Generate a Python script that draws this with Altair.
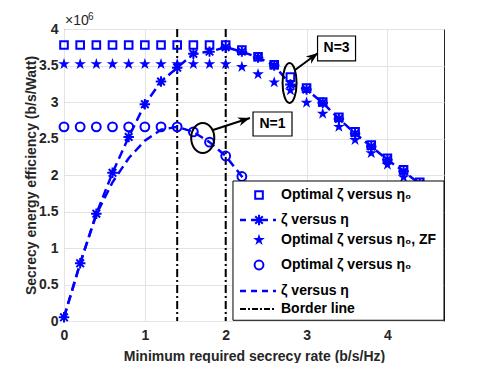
import math
import altair as alt
import pandas as pd

# ---------------- data (values in units of 10^6 b/s/Watt) ----------------
x_vals = [0.0, 0.2, 0.4, 0.6, 0.8, 1.0, 1.2, 1.4, 1.6, 1.8, 2.0, 2.2,
          2.4, 2.6, 2.8, 3.0, 3.2, 3.4, 3.6, 3.8, 4.0, 4.2, 4.4, 4.6]
opt_n3 = [3.78, 3.78, 3.78, 3.78, 3.78, 3.78, 3.78, 3.78, 3.78, 3.78, 3.78, 3.71,
          3.62, 3.51, 3.34, 3.19, 3.00, 2.79, 2.59, 2.41, 2.23, 2.07, 1.90, 1.72]
zeta_n3 = [0.05, 0.79, 1.47, 2.03, 2.52, 2.97, 3.28, 3.47, 3.66, 3.69, 3.75, 3.69,
           3.61, 3.50, 3.24, 3.17, 2.99, 2.77, 2.57, 2.39, 2.21, 2.05, 1.88, 1.70]
opt_zf = [3.52, 3.52, 3.52, 3.52, 3.52, 3.52, 3.52, 3.52, 3.52, 3.52, 3.52, 3.48,
          3.38, 3.27, 3.16, 2.99, 2.84, 2.66, 2.48, 2.30, 2.14, 1.97, 1.80, 1.62]
x_n1 = [0.0, 0.2, 0.4, 0.6, 0.8, 1.0, 1.2, 1.4, 1.6, 1.8, 2.0, 2.2, 2.4]
opt_n1 = [2.66, 2.66, 2.66, 2.66, 2.66, 2.66, 2.66, 2.66, 2.59, 2.45, 2.26, 1.98, 1.68]
zeta_n1 = [0.05, 0.79, 1.46, 1.90, 2.23, 2.47, 2.62, 2.66, 2.59, 2.45, 2.26, 1.98, 1.68]
border_x = [1.4, 2.0]

x_ticks = [0, 1, 2, 3, 4]
y_ticks = [0, 0.5, 1, 1.5, 2, 2.5, 3, 3.5, 4]

legend_labels = ["Optimal ζ versus η₀", "ζ versus η", "Optimal ζ versus η₀, ZF",
                 "Optimal ζ versus η₀", "ζ versus η", "Border line"]

# annotations (data units)
box_labels = ["N=1", "N=3"]
box_x1 = [2.338, 3.136]
box_x2 = [2.820, 3.606]
box_y1 = [2.863, 3.904]
box_y2 = [2.534, 3.562]
arrow_x1 = [1.843, 2.857]
arrow_y1 = [2.616, 3.438]
arrow_x2 = [2.300, 3.142]
arrow_y2 = [2.780, 3.671]
ell_x = [1.716, 2.79]
ell_y = [2.507, 3.26]

# legend layout (data units)
leg_rows_y = [1.726, 1.384, 1.110, 0.767, 0.411, 0.164]
leg_marker_x = 2.412
leg_line_x1, leg_line_x2 = 2.177, 2.622
leg_text_x = 2.684
leg_box = (2.090, 4.7, 1.918, 0.01)

# ---------------- styling ----------------
W, H = 380, 292
XMAX, YMAX = 4.7, 4.0
BLUE = "#0000FF"
FONT = "Liberation Sans"
STAR = ("M0,-1L0.225,-0.309L0.951,-0.309L0.363,0.118L0.588,0.809L0,0.382"
        "L-0.588,0.809L-0.363,0.118L-0.951,-0.309L-0.225,-0.309Z")
ASTER = "M-1,0L1,0M0,-1L0,1M-0.72,-0.72L0.72,0.72M-0.72,0.72L0.72,-0.72"
HEAD = "M0,0L-2,-0.75L-1.4,0L-2,0.75Z"
ELL1 = "M0,-1A0.77,1 0 1,1 0,1A0.77,1 0 1,1 0,-1Z"
ELL3 = "M0,-1A0.35,1 0 1,1 0,1A0.35,1 0 1,1 0,-1Z"

xs = alt.Scale(domain=[0, XMAX], nice=False, zero=False)
ys = alt.Scale(domain=[0, YMAX], nice=False, zero=False)
x_axis = alt.Axis(values=x_ticks, format="~g", title="Minimum required secrecy rate (b/s/Hz)",
                  labelPadding=7, titlePadding=7)
y_axis = alt.Axis(values=y_ticks, format="~g", title="Secrecy energy efficiency (b/s/Watt)",
                  labelPadding=6, titlePadding=0)


def X(f="x"):
    return alt.X(f"{f}:Q", scale=xs, axis=x_axis)


def Y(f="y"):
    return alt.Y(f"{f}:Q", scale=ys, axis=y_axis)


def pts(df, shape, size, filled, color=BLUE, sw=2.0):
    if filled:
        m = alt.Chart(df).mark_point(shape=shape, size=size, filled=True, fill=color,
                                     strokeWidth=0, opacity=1)
    else:
        m = alt.Chart(df).mark_point(shape=shape, size=size, filled=False, stroke=color,
                                     strokeWidth=sw, opacity=1)
    return m.encode(x=X(), y=Y())


def line(df, color=BLUE, dash=(9, 5), sw=2.5):
    return alt.Chart(df).mark_line(color=color, strokeWidth=sw, strokeDash=list(dash)).encode(
        x=X(), y=Y(), order="x:Q")


df_n3 = pd.DataFrame({"x": x_vals, "y": opt_n3})
df_z3 = pd.DataFrame({"x": x_vals, "y": zeta_n3})
df_zf = pd.DataFrame({"x": x_vals, "y": opt_zf})
df_n1 = pd.DataFrame({"x": x_n1, "y": opt_n1})
df_z1 = pd.DataFrame({"x": x_n1, "y": zeta_n1})
df_border = pd.DataFrame({"x": border_x})

SQ, AS, ST, CI = 58, 110, 150, 78

borders = alt.Chart(df_border).mark_rule(color="black", strokeWidth=2,
                                         strokeDash=[8, 3, 2, 3]).encode(x=X())

layers = [
    borders,
    line(df_z1),
    line(df_z3),
    pts(df_z3, ASTER, AS, False),
    pts(df_n3, "square", SQ, False),
    pts(df_zf, STAR, ST, True),
    pts(df_n1, "circle", CI, False),
]

# annotations
df_ell = pd.DataFrame({"x": ell_x, "y": ell_y})
layers.append(pts(df_ell.iloc[[0]], ELL1, 900, False, color="black", sw=2))
layers.append(pts(df_ell.iloc[[1]], ELL3, 1600, False, color="black", sw=2))

ang = []
for a, b, c, d in zip(arrow_x1, arrow_y1, arrow_x2, arrow_y2):
    dx = (c - a) * W / XMAX
    dy = -(d - b) * H / YMAX
    ang.append(math.degrees(math.atan2(dy, dx)) % 360)
df_arr = pd.DataFrame({"x": arrow_x1, "y": arrow_y1, "x2": arrow_x2, "y2": arrow_y2, "ang": ang})
layers.append(alt.Chart(df_arr).mark_rule(color="black", strokeWidth=2).encode(
    x=X(), y=Y(), x2="x2:Q", y2="y2:Q"))
layers.append(alt.Chart(df_arr).mark_point(shape=HEAD, size=144, filled=True, fill="black",
                                           strokeWidth=0, opacity=1).encode(
    x=X("x2"), y=Y("y2"), angle=alt.Angle("ang:Q", scale=None)))

df_box = pd.DataFrame({"x": box_x1, "x2": box_x2, "y": box_y1, "y2": box_y2, "t": box_labels,
                       "cx": [(a + b) / 2 for a, b in zip(box_x1, box_x2)],
                       "cy": [(a + b) / 2 for a, b in zip(box_y1, box_y2)]})
layers.append(alt.Chart(df_box).mark_rect(fill="white", stroke="black", strokeWidth=1.2).encode(
    x=X(), x2="x2:Q", y=Y(), y2="y2:Q"))
layers.append(alt.Chart(df_box).mark_text(font=FONT, fontSize=14, fontWeight="bold",
                                          color="black", baseline="middle").encode(
    x=X("cx"), y=Y("cy"), text="t:N"))

# legend
df_legbox = pd.DataFrame({"x": [leg_box[0]], "x2": [leg_box[1]], "y": [leg_box[2]], "y2": [leg_box[3]]})
layers.append(alt.Chart(df_legbox).mark_rect(fill="white", stroke="black", strokeWidth=1).encode(
    x=X(), x2="x2:Q", y=Y(), y2="y2:Q"))
df_leg_lines_blue = pd.DataFrame({"x": [leg_line_x1] * 2, "x2": [leg_line_x2] * 2,
                                  "y": [leg_rows_y[1], leg_rows_y[4]]})
layers.append(alt.Chart(df_leg_lines_blue).mark_rule(color=BLUE, strokeWidth=2.5,
                                                     strokeDash=[6, 5]).encode(
    x=X(), x2="x2:Q", y=Y()))
df_leg_line_black = pd.DataFrame({"x": [leg_line_x1], "x2": [leg_line_x2], "y": [leg_rows_y[5]]})
layers.append(alt.Chart(df_leg_line_black).mark_rule(color="black", strokeWidth=2,
                                                     strokeDash=[6, 2, 2, 2]).encode(
    x=X(), x2="x2:Q", y=Y()))
layers.append(pts(pd.DataFrame({"x": [leg_marker_x], "y": [leg_rows_y[0]]}), "square", SQ, False))
layers.append(pts(pd.DataFrame({"x": [leg_marker_x], "y": [leg_rows_y[1]]}), ASTER, AS, False))
layers.append(pts(pd.DataFrame({"x": [leg_marker_x], "y": [leg_rows_y[2]]}), STAR, ST, True))
layers.append(pts(pd.DataFrame({"x": [leg_marker_x], "y": [leg_rows_y[3]]}), "circle", CI, False))
df_leg_text = pd.DataFrame({"x": [leg_text_x] * 6, "y": leg_rows_y, "t": legend_labels})
layers.append(alt.Chart(df_leg_text).mark_text(font=FONT, fontSize=14, fontWeight="bold",
                                               color="black", align="left",
                                               baseline="middle").encode(
    x=X(), y=Y(), text="t:N"))

# exponent label
dummy = pd.DataFrame({"a": [0]})
layers.append(alt.Chart(dummy).mark_text(font=FONT, fontSize=14, color="#262626", align="left",
                                         baseline="alphabetic", text="×10").encode(
    x=alt.value(1), y=alt.value(-4)))
layers.append(alt.Chart(dummy).mark_text(font=FONT, fontSize=10, color="#262626", align="left",
                                         baseline="alphabetic", text="6").encode(
    x=alt.value(24), y=alt.value(-9)))

chart = alt.layer(*layers).properties(
    width=W, height=H,
    autosize=alt.AutoSizeParams(type="none"),
    padding={"left": 56, "top": 21, "right": 30, "bottom": 42},
).configure_view(stroke="#262626", strokeWidth=1).configure_axis(
    labelFont=FONT, titleFont=FONT, labelFontSize=14, titleFontSize=14,
    labelFontWeight="bold", titleFontWeight="bold", labelColor="#262626",
    titleColor="#262626", domain=False, ticks=False, gridColor="#e3e3e3",
    gridWidth=1, labelFlush=False,
)

chart.save("out.html", embed_options={"renderer": "svg", "actions": False})
